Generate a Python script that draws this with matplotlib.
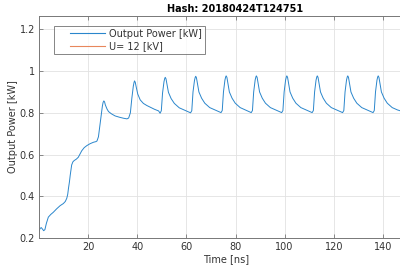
import matplotlib
matplotlib.use("Agg")
import matplotlib.pyplot as plt

# values
time_ns = [
    0.0, 0.4, 0.9, 1.4, 1.9, 2.4, 3.0, 3.8, 4.8, 5.8, 7.2, 8.6, 9.9, 10.7, 11.3,
    11.7, 12.0, 12.4, 12.7, 13.0, 13.3, 13.8, 14.3, 15.2, 16.0, 16.8, 17.4, 18.4,
    19.5, 20.8, 22.2, 23.2, 23.6, 24.2, 24.8, 25.3, 25.8, 26.1, 26.4, 26.7, 27.0, 27.7, 28.3,
    29.5, 31.0, 32.7, 34.4, 35.8, 36.5, 37.2, 37.8, 38.4, 38.7, 38.9, 39.2, 39.5, 40.2, 41.2,
    42.5, 43.9, 45.3, 47.0, 48.7,
    49.3, 49.8, 50.3, 50.9, 51.2, 51.4, 51.7, 52.1, 52.7, 53.8, 55.1, 57.1, 59.2, 61.2,
    61.7, 62.2, 62.7, 63.3, 63.6, 63.8, 64.1, 64.5, 65.1, 66.2, 67.5, 69.5, 71.6, 73.6,
    74.1, 74.6, 75.1, 75.7, 76.0, 76.2, 76.5, 76.9, 77.5, 78.6, 79.9, 81.9, 84.0, 86.0,
    86.4, 86.9, 87.4, 88.0, 88.3, 88.5, 88.8, 89.2, 89.8, 90.9, 92.2, 94.2, 96.3, 98.3,
    98.8, 99.3, 99.8, 100.4, 100.7, 100.9, 101.2, 101.6, 102.2, 103.3, 104.6, 106.6, 108.7, 110.7,
    111.2, 111.7, 112.2, 112.8, 113.1, 113.3, 113.6, 114.0, 114.6, 115.7, 117.0, 119.0, 121.1, 123.1,
    123.6, 124.1, 124.6, 125.2, 125.5, 125.7, 126.0, 126.4, 127.0, 128.1, 129.4, 131.4, 133.5, 135.5,
    136.0, 136.5, 137.0, 137.6, 137.9, 138.1, 138.4, 138.8, 139.4, 140.5, 141.8, 143.8, 145.9, 147.5,
]
power_kw = [
    0.232, 0.245, 0.250, 0.243, 0.235, 0.240, 0.270, 0.300, 0.313, 0.323, 0.340, 0.355, 0.365, 0.375, 0.390,
    0.410, 0.438, 0.470, 0.500, 0.525, 0.550, 0.565, 0.571, 0.578, 0.587, 0.605, 0.618, 0.633,
    0.643, 0.652, 0.659, 0.662, 0.665, 0.685, 0.740, 0.790, 0.832, 0.850, 0.857, 0.852, 0.838, 0.818, 0.806,
    0.795, 0.785, 0.779, 0.774, 0.771, 0.775, 0.800, 0.870, 0.928, 0.946, 0.953, 0.946, 0.928, 0.890, 0.862,
    0.845, 0.835, 0.827, 0.817, 0.809,
    0.798, 0.810, 0.895, 0.950, 0.965, 0.970, 0.963, 0.938, 0.898, 0.868, 0.845, 0.824, 0.813, 0.803,
    0.800, 0.810, 0.900, 0.955, 0.970, 0.975, 0.968, 0.940, 0.900, 0.870, 0.846, 0.825, 0.814, 0.804,
    0.801, 0.811, 0.900, 0.957, 0.972, 0.977, 0.970, 0.942, 0.900, 0.870, 0.846, 0.825, 0.814, 0.804,
    0.801, 0.811, 0.900, 0.957, 0.972, 0.977, 0.970, 0.942, 0.900, 0.870, 0.846, 0.825, 0.814, 0.804,
    0.801, 0.811, 0.900, 0.957, 0.972, 0.977, 0.970, 0.942, 0.900, 0.870, 0.846, 0.825, 0.814, 0.804,
    0.801, 0.811, 0.900, 0.957, 0.972, 0.977, 0.970, 0.942, 0.900, 0.870, 0.846, 0.825, 0.814, 0.804,
    0.801, 0.811, 0.900, 0.957, 0.972, 0.977, 0.970, 0.942, 0.900, 0.870, 0.846, 0.825, 0.814, 0.804,
    0.801, 0.811, 0.900, 0.957, 0.972, 0.977, 0.970, 0.942, 0.900, 0.870, 0.846, 0.825, 0.814, 0.808,
]
voltage_kv = 12
x_ticks = [20, 40, 60, 80, 100, 120, 140]
y_ticks = [0.2, 0.4, 0.6, 0.8, 1.0, 1.2]
y_tick_labels = ["0.2", "0.4", "0.6", "0.8", "1", "1.2"]

W, H = 400, 269
fig = plt.figure(figsize=(W / 100, H / 100), dpi=100)
# axes run past the right edge, like the cropped original
ax = fig.add_axes([39 / W, 31 / H, 393 / W, 222 / H])

fs = 7
txt = "#333333"
ax.plot(time_ns, power_kw, color="#2a86cc", lw=0.7, label="Output Power [kW]")
ax.plot([time_ns[0], time_ns[-1]], [voltage_kv, voltage_kv], color="#e8875c", lw=0.7,
        label="U= %d [kV]" % voltage_kv)

ax.set_xlim(0, 160)
ax.set_ylim(0.2, 1.264)
ax.set_xticks(x_ticks)
ax.set_yticks(y_ticks)
ax.set_yticklabels(y_tick_labels)
ax.grid(True, color="#e2e2e2", lw=0.6)
ax.set_axisbelow(True)
ax.tick_params(direction="in", length=3, width=0.6, colors="#777777",
               labelcolor=txt, labelsize=fs, top=True, right=True, pad=3)
for s in ax.spines.values():
    s.set_color("#777777")
    s.set_linewidth(0.7)

ax.set_xlabel("Time [ns]", fontsize=fs, color=txt)
ax.xaxis.set_label_coords((226.5 - 39) / 393, -(254.5 - 238) / 222)
ax.set_ylabel("Output Power [kW]", fontsize=fs, color=txt)
ax.yaxis.set_label_coords(-(39 - 18) / 393, 0.5)
fig.text(235.5 / W, 1 - 8.5 / H, "Hash: 20180424T124751", fontsize=fs, fontweight="bold",
         color="#000000", ha="center", va="center")

hlen = 4.9
leg = ax.legend(loc="upper left", bbox_to_anchor=(54 / W, 1 - 25.5 / H),
                bbox_transform=fig.transFigure, fontsize=fs, fancybox=False,
                handlelength=hlen, labelspacing=0.24, borderpad=0.34, handletextpad=0.44,
                borderaxespad=0)
leg.get_frame().set_edgecolor("#666666")
leg.get_frame().set_linewidth(0.7)
for t in leg.get_texts():
    t.set_color(txt)
# MATLAB-like indent of the legend lines
for ln in leg.get_lines():
    y0 = ln.get_ydata()[0]
    ln.set_data([1.3 * fs, hlen * fs], [y0, y0])
    ln.set_linewidth(0.8)

fig.savefig("out.png", dpi=100)
